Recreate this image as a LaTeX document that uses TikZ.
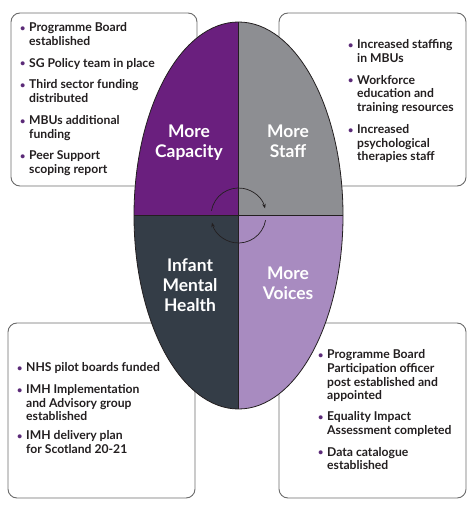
\documentclass[tikz,border=0pt]{standalone}
\usepackage{fontspec}
\setmainfont{Lato}
\usetikzlibrary{arrows.meta}
\newcommand{\pt}{\llap{\makebox[9bp][l]{\raisebox{0.4bp}{\textcolor{bulletcol}{\scalebox{0.75}{\textbullet}}}}}}
\begin{document}
\begin{tikzpicture}[x=1bp,y=-1bp,
  panel/.style={draw=boxline,line width=0.9bp,fill=white,rounded corners=9bp,inner sep=0pt},
  points/.style={anchor=north west,align=left,inner sep=0pt,text=ink,font=\fontsize{12.2}{13.8}\selectfont\bfseries},
  quarter/.style={align=center,inner sep=0pt,text=white,font=\fontsize{17.5}{20}\selectfont\bfseries},
  rim/.style={draw=ink,line width=0.8bp},
  turn/.style={draw=ink,line width=0.7bp,-{Stealth[length=4.5bp,width=3.5bp]}}]
\definecolor{capcol}{HTML}{6A1F7E}
\definecolor{staffcol}{HTML}{8D8E92}
\definecolor{imhcol}{HTML}{343D47}
\definecolor{voicecol}{HTML}{A88BC0}
\definecolor{boxline}{HTML}{6B6B6B}
\definecolor{ink}{HTML}{231F20}
\definecolor{bulletcol}{HTML}{5B2A78}
\useasboundingbox (0,0) rectangle (474,508);
% the four boxes behind the oval
\node[panel,minimum width=186bp,minimum height=173bp] (capbox) at (104,99.5) {};
\node[panel,minimum width=187bp,minimum height=173bp] (staffbox) at (372.5,99.5) {};
\node[panel,minimum width=187bp,minimum height=175bp] (imhbox) at (101.5,410.5) {};
\node[panel,minimum width=187bp,minimum height=175bp] (voicebox) at (372.5,410.5) {};
% the oval in four quarters
\coordinate (hub) at (238.5,215.5);
\begin{scope}
\clip (hub) ellipse [x radius=104.5,y radius=193.5];
\fill[capcol] (hub) rectangle ++(-110,-200);
\fill[staffcol] (hub) rectangle ++(110,-200);
\fill[imhcol] (hub) rectangle ++(-110,200);
\fill[voicecol] (hub) rectangle ++(110,200);
\end{scope}
\draw[rim] (hub) ellipse [x radius=104.5,y radius=193.5];
\draw[rim] (hub) ++(0,-193.5) -- ++(0,387);
\draw[rim] (hub) ++(-104.5,0) -- ++(209,0);
% turning arrows
\draw[turn] (hub) ++(190:27.5) arc[start angle=190,end angle=345,radius=27.5];
\draw[turn] (hub) ++(10:27.5) arc[start angle=10,end angle=165,radius=27.5];
% quarter titles
\node[quarter] (captitle) at (189,143) {More\\Capacity};
\node[quarter] (stafftitle) at (288,141) {More\\Staff};
\node[quarter] (imhtitle) at (190,285) {Infant\\Mental\\Health};
\node[quarter] (voicetitle) at (288,283) {More\\Voices};
% box texts
\node[points] (caplist) at (29,22.5) {\pt Programme Board\\established\\[8bp]
  \pt SG Policy team in place\\[8bp]
  \pt Third sector funding\\distributed\\[8bp]
  \pt MBUs additional\\funding\\[8bp]
  \pt Peer Support\\scoping report};
\node[points] (stafflist) at (357,39.5) {\pt Increased staffing\\in MBUs\\[8bp]
  \pt Workforce\\education and\\training resources\\[8bp]
  \pt Increased\\psychological\\therapies staff};
\node[points] (imhlist) at (26,362.5) {\pt NHS pilot boards funded\\[8bp]
  \pt IMH Implementation\\and Advisory group\\established\\[5bp]
  \pt IMH delivery plan\\for Scotland 20-21};
\node[points] (voicelist) at (327,349.5) {\pt Programme Board\\Participation officer\\post established and\\appointed\\[7bp]
  \pt Equality Impact\\Assessment completed\\[8bp]
  \pt Data catalogue\\established};
\end{tikzpicture}
\end{document}
